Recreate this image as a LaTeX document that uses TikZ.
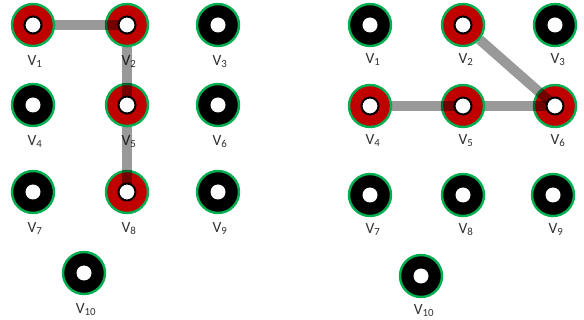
\documentclass[tikz,border=0pt]{standalone}
\usepackage{fontspec}
\setmainfont{Carlito}
\usetikzlibrary{positioning}
\definecolor{ring}{HTML}{00B050}
\definecolor{hot}{HTML}{C00000}
\definecolor{ink}{HTML}{303030}
\tikzset{
  vtx/.style={circle, fill=black, draw=ring, line width=2.4pt,
              minimum size=42pt, inner sep=0pt},
  hotvtx/.style={vtx, fill=hot},
  vname/.style={anchor=north, inner sep=0pt, text=ink,
                font=\fontsize{15.5}{16}\selectfont},
  route/.style={draw=black, draw opacity=0.4, line width=10pt}
}

\begin{document}
\begin{tikzpicture}[x=1pt,y=-1pt]
  \useasboundingbox (0,0) rectangle (584,320);
  % left graph
  \foreach \n/\x/\y/\s in {1/33/25/hotvtx, 2/127/25/hotvtx, 3/218/25/vtx,
                          4/33/105/vtx, 5/127/105/hotvtx, 6/218/105/vtx,
                          7/33/192/vtx, 8/127/192/hotvtx, 9/218/192/vtx,
                          10/84/273/vtx} {
    \node[\s] (l\n) at (\x,\y) {};
    \node[vname] (l\n t) at (\x+2,\y+30) {V\textsubscript{\n}};
  }
  % right graph
  \foreach \n/\x/\y/\s in {1/370/25/vtx, 2/463/25/hotvtx, 3/555/25/vtx,
                          4/370/106/hotvtx, 5/463/106/hotvtx, 6/555/106/hotvtx,
                          7/370/195/vtx, 8/463/195/vtx, 9/553/195/vtx,
                          10/421/276/vtx} {
    \node[\s] (r\n) at (\x,\y) {};
    \node[vname] (r\n t) at (\x+3,\y+28) {V\textsubscript{\n}};
  }
  % paths
  \draw[route] (l1) -- (l2.center);
  \draw[route] (l2) -- (l5.center);
  \draw[route] (l5) -- (l8.center);
  \draw[route] (r4) -- (r5.center);
  \draw[route] (r5) -- (r6.center);
  \draw[route] (r2) -- (r6.center);
  % holes
  \foreach \v in {l3,l4,l6,l7,l9,l10,r1,r3,r7,r8,r9,r10}
    {\fill[white] (\v) circle (7.5pt);}
  \foreach \v in {l1,l2,l5,l8,r2,r4,r5,r6}
    {\filldraw[fill=white, draw=black, line width=2pt] (\v) circle (8.5pt);}
\end{tikzpicture}
\end{document}
